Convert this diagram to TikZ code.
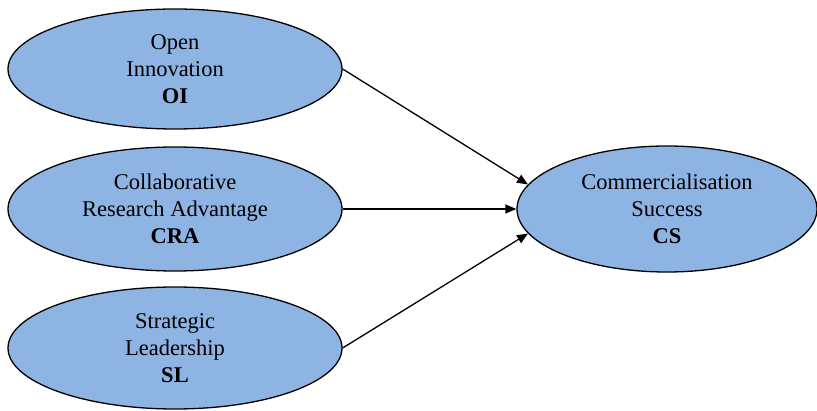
\documentclass[tikz,border=0pt]{standalone}
\usepackage{fontspec}
\setmainfont{Liberation Serif}
\usetikzlibrary{shapes.geometric,arrows.meta}
\definecolor{bubble}{HTML}{8EB4E3}
\tikzset{
  construct/.style={ellipse, draw=black, line width=1.3pt, fill=bubble,
    inner sep=0pt, minimum width=334pt, minimum height=120pt,
    align=center, font=\fontsize{22.5}{27}\selectfont},
  path/.style={draw=black, line width=1.3pt, -{Triangle[length=11pt,width=9pt]}}
}
\begin{document}
\begin{tikzpicture}[x=1pt,y=-1pt]
  \useasboundingbox (0,0) rectangle (817,411);
  \node[construct] (oi)  at (175,69)  {Open\\Innovation\\\textbf{OI}};
  \node[construct, minimum height=124pt] (cra) at (175,209) {Collaborative\\Research Advantage\\\textbf{CRA}};
  \node[construct, minimum height=122pt] (sl)  at (175,348) {Strategic\\Leadership\\\textbf{SL}};
  \node[construct, minimum width=300pt, minimum height=126pt] (cs) at (667,209) {Commercialisation\\Success\\\textbf{CS}};
  \draw[path] (oi.east)  -- (cs.170);
  \draw[path] (cra.east) -- (cs.west);
  \draw[path] (sl.east)  -- (cs.190);
\end{tikzpicture}
\end{document}
